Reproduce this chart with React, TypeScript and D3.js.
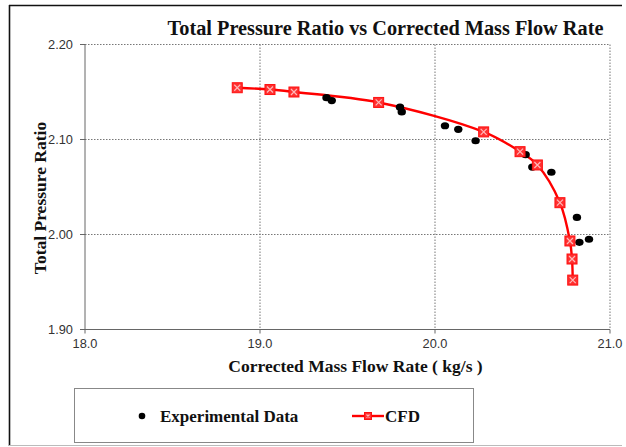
import React from "react";
import * as d3 from "d3";

// Corrected mass flow rate (kg/s) and total pressure ratio
const cfdFlow = [18.87, 19.057, 19.194, 19.678, 20.278, 20.486, 20.585, 20.714, 20.771, 20.783, 20.787];
const cfdRatio = [2.1545, 2.1526, 2.150, 2.139, 2.108, 2.0872, 2.0732, 2.0335, 1.9932, 1.9742, 1.952];

const expFlow = [19.38, 19.41, 19.80, 19.81, 20.057, 20.133, 20.232, 20.518, 20.556, 20.665, 20.811, 20.825, 20.88];
const expRatio = [2.144, 2.141, 2.134, 2.129, 2.1145, 2.1107, 2.0987, 2.084, 2.071, 2.0655, 2.018, 1.9918, 1.995];

const xTicks = [18.0, 19.0, 20.0, 21.0];
const yTicks = [1.9, 2.0, 2.1, 2.2];

const W = 626;
const H = 447;
const serif = "'Liberation Serif', 'Times New Roman', serif";
const sans = "'Liberation Sans', Arial, sans-serif";

function CfdMarker({ x, y, s = 5 }: { x: number; y: number; s?: number }) {
  return (
    <g transform={`translate(${x},${y})`}>
      <rect x={-s} y={-s} width={2 * s} height={2 * s} fill="#ff3030" stroke="#ff1010" strokeWidth={1} />
      <path d={`M${-s + 2},${-s + 2}L${s - 2},${s - 2}M${-s + 2},${s - 2}L${s - 2},${-s + 2}`} stroke="#ffb8b8" strokeWidth={1.2} />
    </g>
  );
}

export default function App() {
  const x = d3.scaleLinear().domain([18, 21]).range([85, 610]);
  const y = d3.scaleLinear().domain([1.9, 2.2]).range([329.5, 44.5]);

  const cfd = cfdFlow.map((f, i) => [x(f), y(cfdRatio[i])] as [number, number]);
  const line = d3.line().curve(d3.curveCatmullRom.alpha(0.5))(cfd) ?? "";

  return (
    <svg width={W} height={H} style={{ position: "absolute", left: 0, top: 0, background: "#fff" }}>
      {/* outer frame */}
      <line x1={9} y1={5.5} x2={622} y2={5.5} stroke="#111" strokeWidth={1.6} />
      <line x1={9.5} y1={5} x2={9.5} y2={446} stroke="#111" strokeWidth={1.6} />
      <line x1={9} y1={445.5} x2={622} y2={445.5} stroke="#bbb" strokeWidth={1} />

      {/* title */}
      <text x={385.5} y={35} textAnchor="middle" fontFamily={serif} fontWeight="bold" fontSize={20.3} fill="#111">
        Total Pressure Ratio vs Corrected Mass Flow Rate
      </text>

      {/* grid */}
      {xTicks.slice(1).map((t) => (
        <line key={`gx${t}`} x1={x(t)} x2={x(t)} y1={y(2.2)} y2={y(1.9)} stroke="#777" strokeWidth={1} strokeDasharray="1.5,1.5" />
      ))}
      {yTicks.slice(1).map((t) => (
        <line key={`gy${t}`} x1={x(18)} x2={x(21)} y1={y(t)} y2={y(t)} stroke="#777" strokeWidth={1} strokeDasharray="1.5,1.5" />
      ))}

      {/* axes */}
      <line x1={x(18)} x2={x(18)} y1={y(2.2)} y2={y(1.9)} stroke="#666" strokeWidth={1} />
      <line x1={x(18)} x2={x(21)} y1={y(1.9)} y2={y(1.9)} stroke="#666" strokeWidth={1} />
      {yTicks.map((t) => (
        <g key={`ty${t}`}>
          <line x1={x(18) - 5} x2={x(18)} y1={y(t)} y2={y(t)} stroke="#666" />
          <text x={73} y={y(t) + 4.5} textAnchor="end" fontFamily={sans} fontSize={12.8} fill="#333">
            {t.toFixed(2)}
          </text>
        </g>
      ))}
      {xTicks.map((t) => (
        <g key={`tx${t}`}>
          <line x1={x(t)} x2={x(t)} y1={y(1.9)} y2={y(1.9) + 4} stroke="#666" />
          <text x={x(t)} y={348} textAnchor="middle" fontFamily={sans} fontSize={12.8} fill="#333">
            {t.toFixed(1)}
          </text>
        </g>
      ))}

      {/* axis titles */}
      <text x={355.5} y={372} textAnchor="middle" fontFamily={serif} fontWeight="bold" fontSize={17.5} fill="#111">
        Corrected Mass Flow Rate ( kg/s )
      </text>
      <text transform={`translate(46,198) rotate(-90)`} textAnchor="middle" fontFamily={serif} fontWeight="bold" fontSize={17.5} fill="#111">
        Total Pressure Ratio
      </text>

      {/* CFD curve */}
      <path d={line} fill="none" stroke="#ff0000" strokeWidth={2.4} />

      {/* experimental data */}
      {expFlow.map((f, i) => (
        <ellipse key={`e${i}`} cx={x(f)} cy={y(expRatio[i])} rx={4.2} ry={3.6} fill="#000" />
      ))}

      {cfd.map(([px, py], i) => (
        <CfdMarker key={`c${i}`} x={px} y={py} />
      ))}

      {/* legend */}
      <rect x={74.5} y={388.5} width={399} height={54} fill="#fff" stroke="#888" strokeWidth={1} />
      <circle cx={142} cy={416} r={3.3} fill="#000" />
      <text x={160} y={422} fontFamily={serif} fontWeight="bold" fontSize={17} fill="#111">
        Experimental Data
      </text>
      <line x1={352} x2={384} y1={416} y2={416} stroke="#ff0000" strokeWidth={2.4} />
      <CfdMarker x={368} y={416} s={3.5} />
      <text x={385} y={422} fontFamily={serif} fontWeight="bold" fontSize={17} fill="#111">
        CFD
      </text>
    </svg>
  );
}
